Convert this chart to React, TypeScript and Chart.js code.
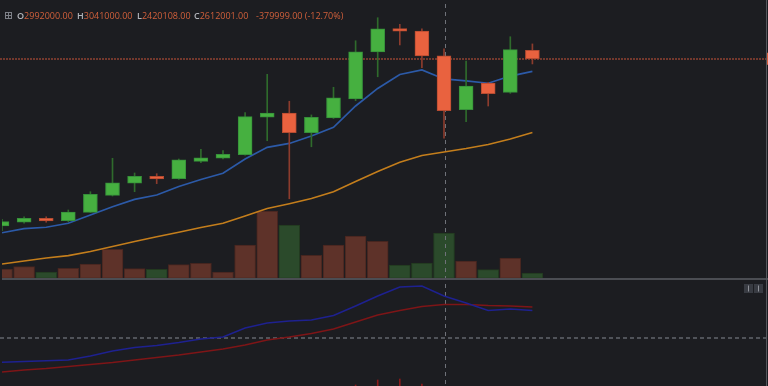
import React, { useEffect, useRef } from 'react';
import { Chart, registerables } from 'chart.js';

Chart.register(...registerables);

// ---- data ----
const opens = [1811000, 1837000, 1864000, 1848000, 1906000, 2024000, 2109000, 2156000, 2139000, 2260000, 2281000, 2306000, 2566000, 2595000, 2459000, 2561000, 2693000, 3019000, 3181000, 3165000, 2992000, 2618000, 2804000, 2739000, 3031000];
const highs = [1857000, 1875000, 1875000, 1922000, 2049000, 2281000, 2179000, 2174000, 2276000, 2343000, 2334000, 2598000, 2864000, 2677000, 2582000, 2774000, 3097000, 3257000, 3211000, 3180000, 3041000, 2956000, 2807000, 3125000, 3075000];
const lows = [1778000, 1830000, 1837000, 1841000, 1905000, 2019000, 2049000, 2105000, 2135000, 2250000, 2277000, 2302000, 2403000, 2000000, 2361000, 2557000, 2681000, 2847000, 3068000, 2910000, 2420108, 2535000, 2644000, 2732000, 2936000];
const closes = [1841000, 1864000, 1846000, 1908000, 2031000, 2111000, 2156000, 2137000, 2271000, 2285000, 2309000, 2570000, 2595000, 2459000, 2566000, 2700000, 3021000, 3179000, 3163000, 2992000, 2612001, 2783000, 2729000, 3035000, 2972000];

const volumes = [930, 1160, 630, 1000, 1430, 2900, 960, 900, 1360, 1500, 630, 3330, 6730, 5330, 2300, 3330, 4230, 3700, 1330, 1530, 4530, 1730, 860, 2030, 530];
const volumeIsGreen = [false, false, true, false, false, false, false, true, false, false, false, false, false, true, false, false, false, false, true, true, true, false, true, false, true];

const maFast = [1764000, 1792000, 1802000, 1830000, 1887000, 1945000, 1996000, 2026000, 2085000, 2134000, 2177000, 2276000, 2357000, 2384000, 2436000, 2496000, 2644000, 2766000, 2863000, 2894000, 2832000, 2818000, 2802000, 2852000, 2885000];
const maSlow = [1547000, 1568000, 1589000, 1605000, 1634000, 1669000, 1703000, 1736000, 1767000, 1800000, 1830000, 1880000, 1932000, 1966000, 2002000, 2049000, 2120000, 2189000, 2253000, 2300000, 2325000, 2349000, 2377000, 2415000, 2460000];

const macdLine = [-24.3, -23.5, -22.8, -22, -18, -13, -9.5, -7.5, -4.5, -1, 1, 10, 15, 17, 18, 22.5, 32, 42, 51, 52, 42, 35, 27.5, 29, 27.5];
const signalLine = [-34, -32, -30.5, -28.5, -26.5, -24.5, -22, -19.5, -17, -14, -11, -7, -2, 1, 4.5, 9, 16, 23, 27.5, 31.5, 33.5, 33.5, 32.5, 32, 31];
const histIndex = [16, 17, 18, 19];
const histValues = [-47, -42, -41, -46];

const crosshairIndex = 20;
const crosshairMacdValue = 0;

const GREEN = '#46b040';
const GREEN_EDGE = '#36903a';
const GREEN_WICK = '#2f6b2c';
const RED = '#e9623f';
const RED_EDGE = '#b54b31';
const RED_WICK = '#8c3c2d';
const BG = '#1c1d21';

const fmt = (v: number) => v.toFixed(2);

export default function App() {
  const canvasRef = useRef<HTMLCanvasElement | null>(null);

  useEffect(() => {
    const canvas = canvasRef.current;
    if (!canvas) return;
    const idx = opens.map((_, i) => i);
    const up = idx.map((i) => closes[i] >= opens[i]);

    const decor = {
      id: 'decor',
      afterDatasetDraw(chart: any, args: any) {
        const ds = chart.data.datasets[args.index];
        if (ds.label !== 'volume') return;
        const ctx = chart.ctx;
        const xs = chart.scales.x;
        const ys = chart.scales.y;
        const ym = chart.scales.ym;
        ctx.save();
        // last price line
        const py = Math.round(ys.getPixelForValue(closes[closes.length - 1]));
        ctx.strokeStyle = '#c8553a';
        ctx.lineWidth = 1.2;
        ctx.setLineDash([2, 1]);
        ctx.beginPath();
        ctx.moveTo(0, py);
        ctx.lineTo(767, py);
        ctx.stroke();
        // crosshair
        const cx = Math.round(xs.getPixelForValue(crosshairIndex)) + 1.5;
        ctx.lineWidth = 1;
        ctx.strokeStyle = '#6f7279';
        ctx.setLineDash([4, 4]);
        ctx.beginPath();
        ctx.moveTo(cx, 4);
        ctx.lineTo(cx, 386);
        ctx.stroke();
        const hy = Math.round(ym.getPixelForValue(crosshairMacdValue));
        ctx.lineWidth = 1.5;
        ctx.strokeStyle = '#62656c';
        ctx.setLineDash([4, 3]);
        ctx.beginPath();
        ctx.moveTo(0, hy);
        ctx.lineTo(768, hy);
        ctx.stroke();
        ctx.restore();
      },
      afterDraw(chart: any) {
        const ctx = chart.ctx;
        ctx.save();
        // pane separator
        ctx.fillStyle = '#4b4d53';
        ctx.fillRect(2, 278, 766, 2);
        // right price-axis edge
        ctx.fillStyle = '#55575d';
        ctx.fillRect(766, 0, 1, 386);
        const py = chart.scales.y.getPixelForValue(closes[closes.length - 1]);
        ctx.fillStyle = '#d9603c';
        ctx.fillRect(767, py - 6, 1, 12);
        // small pane buttons
        const btn = (x: number) => {
          ctx.fillStyle = '#383b42';
          ctx.fillRect(x, 284, 9, 9);
          ctx.strokeStyle = '#8e9198';
          ctx.lineWidth = 1;
          ctx.beginPath();
          ctx.moveTo(x + 4.5, 285.5);
          ctx.lineTo(x + 4.5, 291.5);
          ctx.stroke();
        };
        btn(744);
        btn(754);
        ctx.restore();
      },
    };

    const chart = new Chart(canvas, {
      type: 'bar',
      data: {
        datasets: [
          {
            type: 'bar',
            label: 'body',
            data: idx.map((i) => ({ x: i, y: [opens[i], closes[i]] })) as any,
            backgroundColor: idx.map((i) => (up[i] ? GREEN : RED)),
            borderColor: idx.map((i) => (up[i] ? GREEN_EDGE : RED_EDGE)),
            borderWidth: 1,
            borderSkipped: false,
            barThickness: 14,
            grouped: false,
            yAxisID: 'y',
            order: 0,
          } as any,
          {
            type: 'bar',
            label: 'wick',
            data: idx.map((i) => ({ x: i, y: [lows[i], highs[i]] })) as any,
            backgroundColor: idx.map((i) => (up[i] ? GREEN_WICK : RED_WICK)),
            borderWidth: 0,
            barThickness: 1,
            grouped: false,
            yAxisID: 'y',
            order: 1,
          } as any,
          {
            type: 'line',
            label: 'maFast',
            data: idx.map((i) => ({ x: i, y: maFast[i] })),
            borderColor: '#2c5aa8',
            borderWidth: 1.7,
            pointRadius: 0,
            tension: 0,
            yAxisID: 'y',
            order: 2,
          } as any,
          {
            type: 'line',
            label: 'maSlow',
            data: idx.map((i) => ({ x: i, y: maSlow[i] })),
            borderColor: '#c47e1c',
            borderWidth: 1.6,
            pointRadius: 0,
            tension: 0,
            yAxisID: 'y',
            order: 3,
          } as any,
          {
            type: 'line',
            label: 'macd',
            data: idx.map((i) => ({ x: i, y: macdLine[i] })),
            borderColor: '#1e2190',
            borderWidth: 1.6,
            pointRadius: 0,
            tension: 0,
            yAxisID: 'ym',
            order: 4,
          } as any,
          {
            type: 'line',
            label: 'signal',
            data: idx.map((i) => ({ x: i, y: signalLine[i] })),
            borderColor: '#7e1517',
            borderWidth: 1.6,
            pointRadius: 0,
            tension: 0,
            yAxisID: 'ym',
            order: 5,
          } as any,
          {
            type: 'bar',
            label: 'hist',
            data: histIndex.map((x, k) => ({ x, y: [-48, histValues[k]] })) as any,
            backgroundColor: '#8b1a1a',
            borderWidth: 0,
            barThickness: 1,
            grouped: false,
            yAxisID: 'ym',
            order: 6,
          } as any,
          {
            type: 'bar',
            label: 'volume',
            data: idx.map((i) => ({ x: i, y: volumes[i] })),
            backgroundColor: idx.map((i) => (volumeIsGreen[i] ? '#2b4a2b' : '#5e3229')),
            borderColor: idx.map((i) => (volumeIsGreen[i] ? '#22391f' : '#46251f')),
            borderWidth: 1,
            borderSkipped: false,
            barThickness: 21,
            grouped: false,
            yAxisID: 'yv',
            order: 7,
          } as any,
        ],
      },
      options: {
        responsive: false,
        animation: false,
        layout: { padding: { left: 2, right: 2, top: 0, bottom: 0 } },
        plugins: { legend: { display: false }, tooltip: { enabled: false } },
        scales: {
          x: { type: 'linear', min: 0, max: 34.57, offset: false, display: false },
          y: { min: 700000, max: 3380000, display: false },
          yv: { min: -10770, max: 27830, display: false },
          ym: { min: -48, max: 338, display: false },
        },
      } as any,
      plugins: [decor],
    });
    return () => chart.destroy();
  }, []);

  const i = crosshairIndex;
  const change = closes[i] - opens[i];
  const pct = (change / opens[i]) * 100;
  const grey = '#b3b6bc';
  const orange = '#d2603b';
  const items: [string, string, number][] = [
    ['O', fmt(opens[i]), 17],
    ['H', fmt(highs[i]), 77],
    ['L', fmt(lows[i]), 137],
    ['C', fmt(closes[i]), 194],
    ['', `${fmt(change)} (${pct.toFixed(2)}%)`, 256],
  ];

  return (
    <div style={{ position: 'fixed', left: 0, top: 0, width: 768, height: 386, background: BG, overflow: 'hidden' }}>
      <canvas ref={canvasRef} width={768} height={386} style={{ position: 'absolute', left: 0, top: 0 }} />
      <div style={{ position: 'absolute', left: 5, top: 12, width: 5, height: 5, border: '1px solid #7d8087' }}>
        <div style={{ position: 'absolute', left: 2, top: 0, width: 1, height: 5, background: '#7d8087' }} />
        <div style={{ position: 'absolute', left: 0, top: 2, width: 5, height: 1, background: '#7d8087' }} />
      </div>
      {items.map(([k, v, x]) => (
        <div
          key={x}
          style={{
            position: 'absolute',
            left: x,
            top: 10,
            font: '9px "Open Sans", sans-serif',
            lineHeight: '12px',
            whiteSpace: 'nowrap',
          }}
        >
          {k && <span style={{ color: grey, fontWeight: 600 }}>{k}</span>}
          <span style={{ color: orange }}>{v}</span>
        </div>
      ))}
    </div>
  );
}
